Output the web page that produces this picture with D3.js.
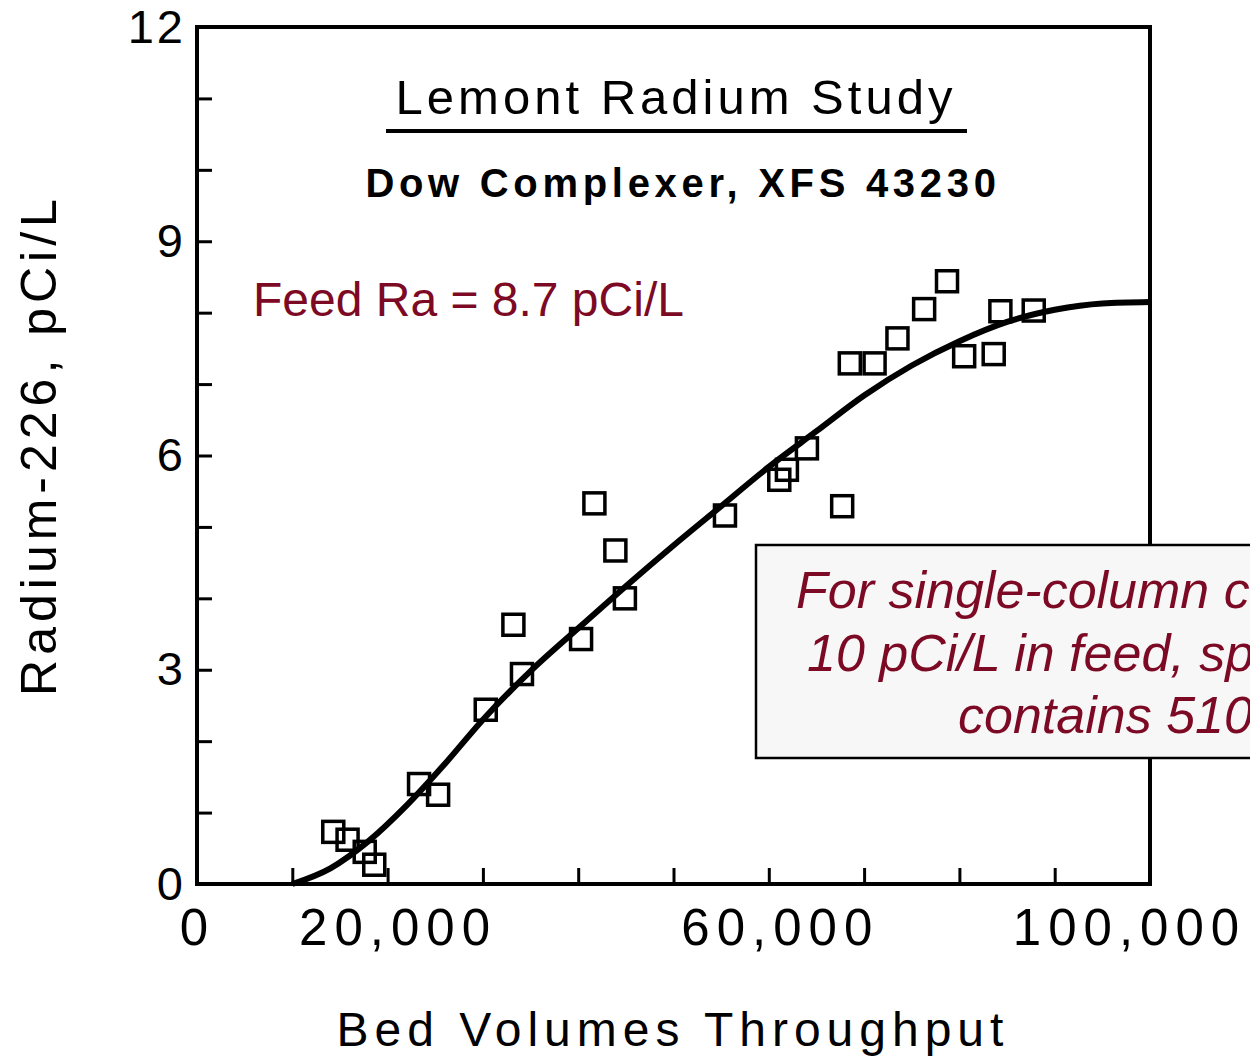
<!DOCTYPE html>
<html>
<head>
<meta charset="utf-8">
<script src="https://cdn.jsdelivr.net/npm/d3@7"></script>
<style>
  body { margin: 0; background: #fff; }
  svg { display: block; font-family: "Liberation Sans", Arial, Helvetica, sans-serif; }
</style>
</head>
<body>
<svg id="chart" width="1250" height="1058"></svg>
<script>
// measured points (bed volumes, pCi/L)
const bedVolumes = [14300, 15800, 17600, 18600, 23300, 25300, 30300, 33200, 34100, 40300,
                    41700, 43900, 44900, 55400, 61100, 61900, 64000, 67700, 68500, 71100,
                    73500, 76300, 78700, 80500, 83600, 84300, 87800];
const radium = [0.73, 0.62, 0.45, 0.27, 1.40, 1.25, 2.44, 3.63, 2.94, 3.43,
                5.33, 4.67, 4.00, 5.16, 5.66, 5.80, 6.10, 5.29, 7.29, 7.29,
                7.64, 8.05, 8.44, 7.39, 7.42, 8.02, 8.03];
// fitted curve
const fitX = [10000, 14000, 18000, 22000, 26000, 30000, 35000, 40000, 45000, 50000,
              55000, 60000, 65000, 70000, 75000, 80000, 85000, 90000, 95000, 100000];
const fitY = [0, 0.22, 0.60, 1.10, 1.68, 2.30, 2.98, 3.58, 4.17, 4.74,
              5.29, 5.84, 6.34, 6.84, 7.26, 7.60, 7.87, 8.04, 8.13, 8.15];
const yLabelTicks = [0, 3, 6, 9, 12];
const xLabelTicks = [0, 20000, 60000, 100000];
const darkRed = "#7d0a24";

var svg = d3.select("#chart");
var mLeft = 197, mRight = 1150, mTop = 27, mBottom = 884;

var xScale = d3.scaleLinear().domain([0, 100000]).range([mLeft, mRight]);
var yScale = d3.scaleLinear().domain([0, 12]).range([mBottom, mTop]);

// fitted curve
var line = d3.line()
    .x((d, i) => xScale(fitX[i]))
    .y(d => yScale(d))
    .curve(d3.curveMonotoneX);
svg.append("path")
    .datum(fitY)
    .attr("d", line)
    .attr("fill", "none")
    .attr("stroke", "#000")
    .attr("stroke-width", 6);

// open squares
var side = 21;
svg.selectAll("rect.pt")
    .data(radium)
    .enter()
    .append("rect")
    .attr("class", "pt")
    .attr("x", (d, i) => xScale(bedVolumes[i]) - side / 2)
    .attr("y", d => yScale(d) - side / 2)
    .attr("width", side)
    .attr("height", side)
    .attr("fill", "none")
    .attr("stroke", "#000")
    .attr("stroke-width", 3.5);

// frame
svg.append("rect")
    .attr("x", mLeft).attr("y", mTop)
    .attr("width", mRight - mLeft).attr("height", mBottom - mTop)
    .attr("fill", "none").attr("stroke", "#000").attr("stroke-width", 4);

// inward ticks
var yTicks = svg.append("g")
    .attr("transform", `translate(${mLeft},0)`)
    .call(d3.axisRight(yScale).tickValues(d3.range(1, 12)).tickSize(15).tickFormat(""));
var xTicks = svg.append("g")
    .attr("transform", `translate(0,${mBottom})`)
    .call(d3.axisTop(xScale).tickValues(d3.range(10000, 100000, 10000)).tickSize(16).tickFormat(""));
[yTicks, xTicks].forEach(g => {
    g.select(".domain").remove();
    g.selectAll("line").attr("stroke-width", 3);
});

// tick labels
var yLab = svg.append("g")
    .attr("transform", `translate(${mLeft},0)`)
    .call(d3.axisLeft(yScale).tickValues(yLabelTicks).tickSize(0).tickPadding(11).tickFormat(d3.format("d")));
var xLab = svg.append("g")
    .attr("transform", `translate(0,${mBottom})`)
    .call(d3.axisBottom(xScale).tickValues(xLabelTicks).tickSize(0).tickPadding(25).tickFormat(d3.format(",")));
[yLab, xLab].forEach(g => g.select(".domain").remove());
yLab.selectAll("text")
    .attr("font-family", null)
    .attr("font-size", 47)
    .attr("letter-spacing", 3)
    .attr("fill", "#000");
var xShift = [0, 10, 11, -21]; // scanned labels sit a little off their ticks
xLab.selectAll("text")
    .attr("font-family", null)
    .attr("font-size", 51)
    .attr("letter-spacing", 7)
    .attr("dx", (d, i) => xShift[i])
    .attr("fill", "#000");

// axis titles
svg.append("text")
    .attr("x", 673).attr("y", 1046)
    .attr("text-anchor", "middle")
    .attr("font-size", 48)
    .attr("letter-spacing", 6)
    .text("Bed Volumes Throughput");
svg.append("text")
    .attr("transform", "translate(56,445) rotate(-90)")
    .attr("text-anchor", "middle")
    .attr("font-size", 50)
    .attr("letter-spacing", 5)
    .text("Radium-226, pCi/L");

// titles inside the plot
svg.append("text")
    .attr("x", 676).attr("y", 114)
    .attr("text-anchor", "middle")
    .attr("font-size", 49)
    .attr("letter-spacing", 4)
    .text("Lemont Radium Study");
svg.append("line")
    .attr("x1", 386).attr("x2", 967)
    .attr("y1", 131).attr("y2", 131)
    .attr("stroke", "#000").attr("stroke-width", 4);
svg.append("text")
    .attr("x", 683).attr("y", 197)
    .attr("text-anchor", "middle")
    .attr("font-size", 40)
    .attr("font-weight", 600)
    .attr("letter-spacing", 4.7)
    .text("Dow Complexer, XFS 43230");

svg.append("text")
    .attr("x", 253).attr("y", 316)
    .attr("font-size", 48)
    .attr("fill", darkRed)
    .text("Feed Ra = 8.7 pCi/L");

// note box (runs off the right edge, as in the source slide)
svg.append("rect")
    .attr("x", 756).attr("y", 545)
    .attr("width", 600).attr("height", 213)
    .attr("fill", "#f7f7f7")
    .attr("stroke", "#000")
    .attr("stroke-width", 2.5);
var note = svg.append("text")
    .attr("font-size", 52)
    .attr("font-style", "italic")
    .attr("fill", darkRed);
[["For single-column change-out at", 796, 608],
 ["10 pCi/L in feed, spent resin", 807, 671],
 ["contains 510 pCi/g", 958, 733]].forEach(r => {
    note.append("tspan").attr("x", r[1]).attr("y", r[2]).text(r[0]);
});
</script>
</body>
</html>
